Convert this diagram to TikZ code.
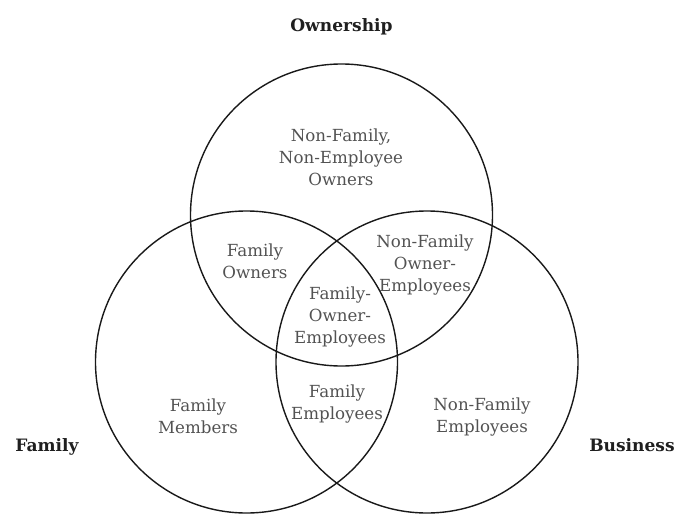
\documentclass[tikz,border=0pt]{standalone}
\usepackage{fontspec}
\setmainfont{DejaVu Serif}
\usetikzlibrary{positioning}

\begin{document}
\begin{tikzpicture}[
    x=0.75pt, y=-0.75pt,
    set/.style={circle, draw=black!90, line width=1.05pt, minimum size=226.5pt, inner sep=0pt},
    region/.style={align=center, text=black!68, font=\fontsize{12.5}{16.5}\selectfont},
    title/.style={font=\fontsize{12.8}{15}\selectfont\bfseries, text=black!88}
]

% Bounding box
\useasboundingbox (0,0) rectangle (678,514);

% Circles
\node[set] (ownership) at (341.5,215) {};
\node[set] (family) at (246.5,362) {};
\node[set] (business) at (427,362) {};

% Titles
\node[title, above=18pt of ownership] (ownershiptitle) {Ownership};
\node[title] (familytitle) at (47,447) {Family};
\node[title] (businesstitle) at (632,445) {Business};

% Regions
\node[region] (nfneowners) at (341,157) {Non-Family,\\Non-Employee\\Owners};
\node[region] (fowners) at (255,261) {Family\\Owners};
\node[region] (nfoemployees) at (425,265) {Non-Family\\Owner-\\Employees};
\node[region] (foemployees) at (340,317) {Family-\\Owner-\\Employees};
\node[region] (fmembers) at (198,416.5) {Family\\Members};
\node[region] (femployees) at (337,404) {Family\\Employees};
\node[region] (nfemployees) at (482,417.5) {Non-Family\\Employees};

\end{tikzpicture}
\end{document}
